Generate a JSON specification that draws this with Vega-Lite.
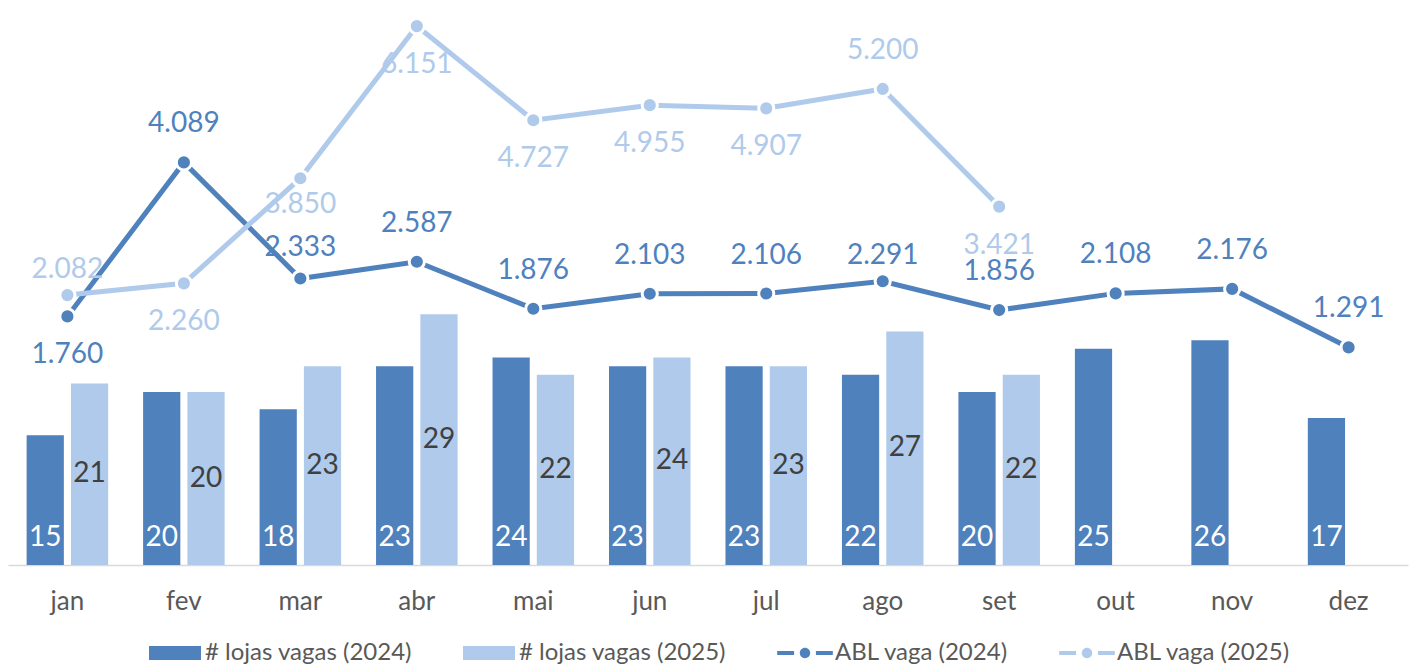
{
  "$schema": "https://vega.github.io/schema/vega-lite/v6.json",
  "width": 1400,
  "height": 562,
  "padding": {"left": 8, "top": 3, "right": 10, "bottom": 0},
  "background": "white",
  "config": {
    "view": {"stroke": null},
    "font": "Lato",
    "axis": {"labelFont": "Lato"},
    "legend": {"labelFont": "Lato"},
    "locale": {"number": {"decimal": ",", "thousands": ".", "grouping": [3], "currency": ["R$", ""]}}
  },
  "datasets": {
    "bars": [
      {"mes": "jan", "serie": "# lojas vagas (2024)", "valor": 15},
      {"mes": "fev", "serie": "# lojas vagas (2024)", "valor": 20},
      {"mes": "mar", "serie": "# lojas vagas (2024)", "valor": 18},
      {"mes": "abr", "serie": "# lojas vagas (2024)", "valor": 23},
      {"mes": "mai", "serie": "# lojas vagas (2024)", "valor": 24},
      {"mes": "jun", "serie": "# lojas vagas (2024)", "valor": 23},
      {"mes": "jul", "serie": "# lojas vagas (2024)", "valor": 23},
      {"mes": "ago", "serie": "# lojas vagas (2024)", "valor": 22},
      {"mes": "set", "serie": "# lojas vagas (2024)", "valor": 20},
      {"mes": "out", "serie": "# lojas vagas (2024)", "valor": 25},
      {"mes": "nov", "serie": "# lojas vagas (2024)", "valor": 26},
      {"mes": "dez", "serie": "# lojas vagas (2024)", "valor": 17},
      {"mes": "jan", "serie": "# lojas vagas (2025)", "valor": 21},
      {"mes": "fev", "serie": "# lojas vagas (2025)", "valor": 20},
      {"mes": "mar", "serie": "# lojas vagas (2025)", "valor": 23},
      {"mes": "abr", "serie": "# lojas vagas (2025)", "valor": 29},
      {"mes": "mai", "serie": "# lojas vagas (2025)", "valor": 22},
      {"mes": "jun", "serie": "# lojas vagas (2025)", "valor": 24},
      {"mes": "jul", "serie": "# lojas vagas (2025)", "valor": 23},
      {"mes": "ago", "serie": "# lojas vagas (2025)", "valor": 27},
      {"mes": "set", "serie": "# lojas vagas (2025)", "valor": 22}
    ],
    "lines": [
      {"mes": "jan", "serie": "ABL vaga (2024)", "valor": 1760},
      {"mes": "fev", "serie": "ABL vaga (2024)", "valor": 4089},
      {"mes": "mar", "serie": "ABL vaga (2024)", "valor": 2333},
      {"mes": "abr", "serie": "ABL vaga (2024)", "valor": 2587},
      {"mes": "mai", "serie": "ABL vaga (2024)", "valor": 1876},
      {"mes": "jun", "serie": "ABL vaga (2024)", "valor": 2103},
      {"mes": "jul", "serie": "ABL vaga (2024)", "valor": 2106},
      {"mes": "ago", "serie": "ABL vaga (2024)", "valor": 2291},
      {"mes": "set", "serie": "ABL vaga (2024)", "valor": 1856},
      {"mes": "out", "serie": "ABL vaga (2024)", "valor": 2108},
      {"mes": "nov", "serie": "ABL vaga (2024)", "valor": 2176},
      {"mes": "dez", "serie": "ABL vaga (2024)", "valor": 1291},
      {"mes": "jan", "serie": "ABL vaga (2025)", "valor": 2082},
      {"mes": "fev", "serie": "ABL vaga (2025)", "valor": 2260},
      {"mes": "mar", "serie": "ABL vaga (2025)", "valor": 3850},
      {"mes": "abr", "serie": "ABL vaga (2025)", "valor": 6151},
      {"mes": "mai", "serie": "ABL vaga (2025)", "valor": 4727},
      {"mes": "jun", "serie": "ABL vaga (2025)", "valor": 4955},
      {"mes": "jul", "serie": "ABL vaga (2025)", "valor": 4907},
      {"mes": "ago", "serie": "ABL vaga (2025)", "valor": 5200},
      {"mes": "set", "serie": "ABL vaga (2025)", "valor": 3421}
    ]
  },
  "encoding": {
    "x": {
      "field": "mes",
      "type": "nominal",
      "sort": ["jan", "fev", "mar", "abr", "mai", "jun", "jul", "ago", "set", "out", "nov", "dez"],
      "scale": {"paddingInner": 0.3, "paddingOuter": 0.16},
      "axis": {
        "title": null,
        "labelAngle": 0,
        "labelFontSize": 26,
        "labelColor": "#595959",
        "labelPadding": 23,
        "ticks": false,
        "domainColor": "#D9D9D9",
        "domainWidth": 1.5,
        "grid": false
      }
    }
  },
  "layer": [
    {
      "data": {"name": "bars"},
      "encoding": {
        "xOffset": {
          "field": "serie",
          "type": "nominal",
          "scale": {"domain": ["# lojas vagas (2024)", "# lojas vagas (2025)"], "paddingInner": 0.16, "paddingOuter": 0}
        }
      },
      "layer": [
        {
          "mark": {"type": "bar"},
          "encoding": {
            "y": {"field": "valor", "type": "quantitative", "scale": {"domain": [0, 65], "nice": false}, "axis": null},
            "color": {
              "field": "serie",
              "type": "nominal",
              "scale": {
                "domain": ["# lojas vagas (2024)", "# lojas vagas (2025)", "ABL vaga (2024)", "ABL vaga (2025)"],
                "range": ["#4F81BD", "#AFCAEB", "#4F81BD", "#AFCAEB"]
              },
              "legend": {
                "title": null,
                "orient": "none",
                "legendX": 141,
                "legendY": 624,
                "direction": "horizontal",
                "columns": 4,
                "padding": 0,
                "labelFontSize": 24,
                "labelColor": "#595959",
                "labelOffset": 4,
                "labelLimit": 400,
                "columnPadding": 50,
                "symbolSize": 2704,
                "symbolStrokeWidth": 0,
                "encode": {
                  "symbols": {
                    "update": {
                      "shape": {"signal": "datum.index < 2 ? 'M-1,-0.27H1V0.27H-1Z' : 'M-1.07,-0.08H-0.42V0.08H-1.07Z M0.42,-0.08H1.07V0.08H0.42Z M-0.2,0A0.2,0.2 0 1,1 0.2,0A0.2,0.2 0 1,1 -0.2,0Z'"},
                      "size": {"value": 2704},
                      "fill": {"signal": "datum.index % 2 == 0 ? '#4F81BD' : '#AFCAEB'"},
                      "stroke": {"value": "transparent"},
                      "strokeWidth": {"value": 0},
                      "opacity": {"value": 1}
                    }
                  }
                }
              }
            }
          }
        },
        {
          "transform": [{"filter": "datum.serie == '# lojas vagas (2024)'"}],
          "mark": {"type": "text", "color": "white", "fontSize": 28, "baseline": "alphabetic", "dy": -19},
          "encoding": {
            "y": {"datum": 0, "type": "quantitative"},
            "text": {"field": "valor", "type": "quantitative"}
          }
        },
        {
          "transform": [
            {"filter": "datum.serie == '# lojas vagas (2025)'"},
            {"calculate": "datum.valor / 2", "as": "meio"}
          ],
          "mark": {"type": "text", "color": "#404040", "fontSize": 28, "baseline": "middle"},
          "encoding": {
            "y": {"field": "meio", "type": "quantitative"},
            "text": {"field": "valor", "type": "quantitative"}
          }
        }
      ]
    },
    {
      "data": {"name": "lines"},
      "encoding": {
        "y": {"field": "valor", "type": "quantitative", "scale": {"domain": [-2000, 6500], "nice": false}, "axis": null},
        "color": {"field": "serie", "type": "nominal"}
      },
      "layer": [
        {
          "mark": {"type": "line", "strokeWidth": 5, "strokeCap": "butt"}
        },
        {
          "mark": {"type": "point", "filled": true, "size": 230, "opacity": 1, "stroke": "white", "strokeWidth": 3}
        },
        {
          "transform": [{"filter": "(datum.serie == 'ABL vaga (2024)' && indexof(['jan','mar','ago'], datum.mes) < 0) || (datum.serie == 'ABL vaga (2025)' && datum.mes == 'ago')"}],
          "mark": {"type": "text", "fontSize": 28, "baseline": "middle", "dy": -38},
          "encoding": {"text": {"field": "valor", "type": "quantitative", "format": ",d"}}
        },
        {
          "transform": [{"filter": "datum.serie == 'ABL vaga (2024)' && datum.mes == 'mar'"}],
          "mark": {"type": "text", "fontSize": 28, "baseline": "middle", "dy": -31},
          "encoding": {"text": {"field": "valor", "type": "quantitative", "format": ",d"}}
        },
        {
          "transform": [{"filter": "(datum.serie == 'ABL vaga (2024)' && datum.mes == 'ago') || (datum.serie == 'ABL vaga (2025)' && datum.mes == 'jan')"}],
          "mark": {"type": "text", "fontSize": 28, "baseline": "middle", "dy": -25},
          "encoding": {"text": {"field": "valor", "type": "quantitative", "format": ",d"}}
        },
        {
          "transform": [{"filter": "(datum.serie == 'ABL vaga (2024)' && datum.mes == 'jan') || (datum.serie == 'ABL vaga (2025)' && indexof(['jan','mar','ago'], datum.mes) < 0)"}],
          "mark": {"type": "text", "fontSize": 28, "baseline": "middle", "dy": 39},
          "encoding": {"text": {"field": "valor", "type": "quantitative", "format": ",d"}}
        },
        {
          "transform": [{"filter": "datum.serie == 'ABL vaga (2025)' && datum.mes == 'mar'"}],
          "mark": {"type": "text", "fontSize": 28, "baseline": "middle", "dy": 27},
          "encoding": {"text": {"field": "valor", "type": "quantitative", "format": ",d"}}
        }
      ]
    }
  ],
  "resolve": {"scale": {"y": "independent"}}
}
